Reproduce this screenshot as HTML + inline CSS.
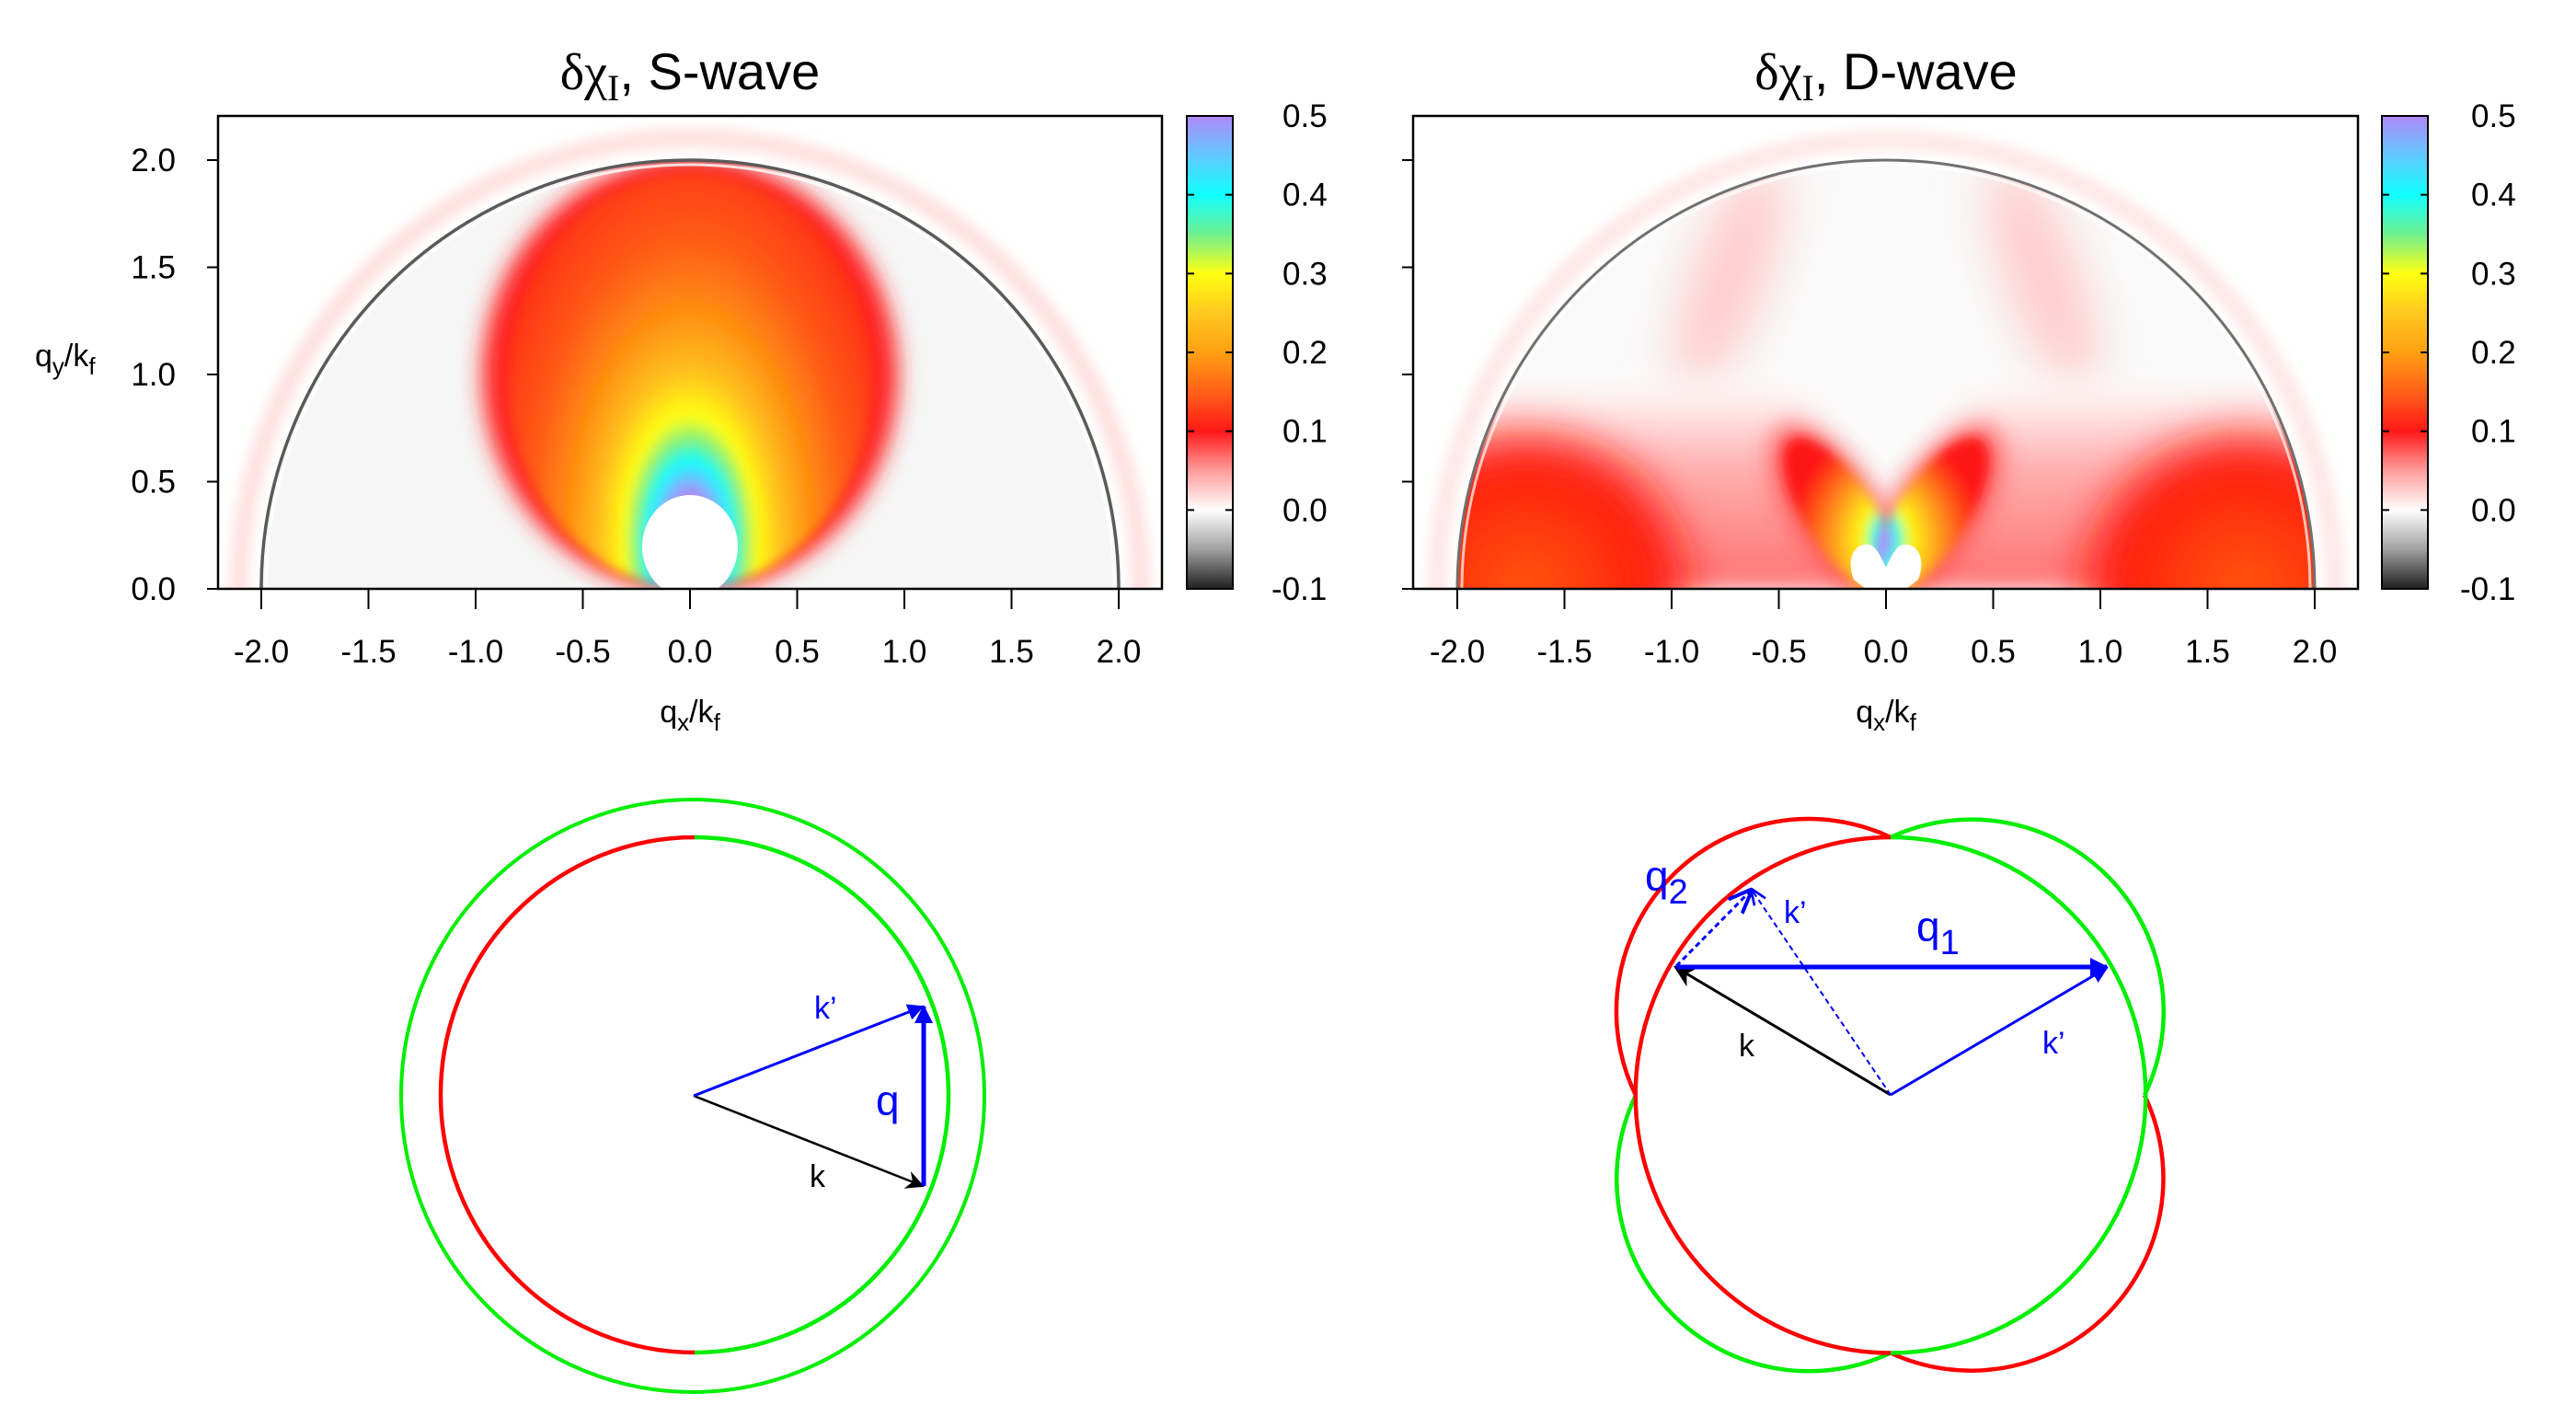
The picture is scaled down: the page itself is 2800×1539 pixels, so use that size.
<!DOCTYPE html>
<html><head><meta charset="utf-8">
<style>
html,body{margin:0;padding:0;background:#fff;}
svg{display:block;font-family:"Liberation Sans",sans-serif;}
</style></head>
<body>
<svg id="fig" width="2800" height="1539" viewBox="0 0 2800 1539" xmlns="http://www.w3.org/2000/svg">
<defs>
  <filter id="blur6" x="-50%" y="-50%" width="200%" height="200%"><feGaussianBlur stdDeviation="6"/></filter>
  <filter id="blur12" x="-50%" y="-50%" width="200%" height="200%"><feGaussianBlur stdDeviation="12"/></filter>
  <filter id="blur25" x="-50%" y="-50%" width="200%" height="200%"><feGaussianBlur stdDeviation="25"/></filter>
  <linearGradient id="cbar" x1="0" y1="1" x2="0" y2="0"></linearGradient>
  <radialGradient id="sGrad" gradientUnits="userSpaceOnUse" cx="750" cy="589" r="233" gradientTransform="translate(750 589) scale(1 1.9) translate(-750 -589)">
    <stop offset="0.12" stop-color="#b088f8"/>
    <stop offset="0.16" stop-color="#60c8ff"/>
    <stop offset="0.2" stop-color="#10ffff"/>
    <stop offset="0.25" stop-color="#80f080"/>
    <stop offset="0.31" stop-color="#ffff10"/>
    <stop offset="0.42" stop-color="#ffc020"/>
    <stop offset="0.56" stop-color="#ff9010"/>
    <stop offset="0.75" stop-color="#ff5a18"/>
    <stop offset="1" stop-color="#ff3010"/>
  </radialGradient>
  <radialGradient id="petalGrad" gradientUnits="userSpaceOnUse" cx="2050" cy="625" r="130">
    <stop offset="0.22" stop-color="#b088f8"/>
    <stop offset="0.3" stop-color="#10ffff"/>
    <stop offset="0.4" stop-color="#ffff10"/>
    <stop offset="0.6" stop-color="#ffb020"/>
    <stop offset="0.85" stop-color="#ff5018"/>
    <stop offset="1" stop-color="#ff1818"/>
  </radialGradient>
  <radialGradient id="lobeGrad">
    <stop offset="0" stop-color="#ff5a10"/>
    <stop offset="0.55" stop-color="#ff3010"/>
    <stop offset="1" stop-color="#ff1010"/>
  </radialGradient>
  <linearGradient id="pinkBand" x1="0" y1="1" x2="0" y2="0">
    <stop offset="0" stop-color="#ff7070"/>
    <stop offset="0.55" stop-color="#ffb0b0"/>
    <stop offset="0.8" stop-color="#ffe4e4"/>
    <stop offset="1" stop-color="#ffffff" stop-opacity="0"/>
  </linearGradient>
  <clipPath id="clipL"><rect x="237" y="126" width="1026" height="514"/></clipPath>
  <clipPath id="clipR"><rect x="1536" y="126" width="1027" height="514"/></clipPath>
  <clipPath id="semiL"><ellipse cx="750" cy="640" rx="466" ry="466"/></clipPath>
  <clipPath id="semiR"><ellipse cx="2050" cy="640" rx="466" ry="466"/></clipPath>
  <marker id="arB" viewBox="0 0 10 10" refX="9" refY="5" markerWidth="6" markerHeight="6" orient="auto" markerUnits="strokeWidth"><path d="M0,0 L10,5 L0,10 z" fill="#0000ff"/></marker>
  <marker id="arBs" viewBox="0 0 10 10" refX="9" refY="5" markerWidth="4" markerHeight="4" orient="auto" markerUnits="strokeWidth"><path d="M0,0 L10,5 L0,10 z" fill="#0000ff"/></marker>
  <marker id="arK" viewBox="0 0 10 10" refX="9" refY="5" markerWidth="8" markerHeight="8" orient="auto" markerUnits="strokeWidth"><path d="M0,0 L10,5 L0,10 L3,5 z" fill="#000"/></marker>
  <marker id="arBd" viewBox="0 0 10 10" refX="9" refY="5" markerWidth="9" markerHeight="9" orient="auto" markerUnits="strokeWidth"><path d="M0,1 L10,5 L0,9" fill="none" stroke="#0000ff" stroke-width="1.5"/></marker>
</defs>

<!-- ===== S-wave heatmap ===== -->
<g id="heatS" clip-path="url(#clipL)">
  <ellipse cx="750" cy="640" rx="490" ry="490" fill="none" stroke="#ffe2e2" stroke-width="22" filter="url(#blur6)"/>
  <ellipse cx="750" cy="640" rx="466" ry="466" fill="#f6f6f6"/>
  <g clip-path="url(#semiL)">
    <ellipse cx="750" cy="180" rx="70" ry="20" fill="#cfcfcf" filter="url(#blur12)"/>
    <ellipse cx="750" cy="408" rx="226" ry="236" fill="#ff2020" filter="url(#blur12)"/>
    <ellipse cx="750" cy="414" rx="198" ry="226" fill="url(#sGrad)" filter="url(#blur6)"/>
    <ellipse cx="750" cy="594" rx="52" ry="56" fill="#ffffff"/>
  </g>
  <ellipse cx="750" cy="640" rx="466" ry="466" fill="none" stroke="#5a5a5a" stroke-width="3.5"/>
  <ellipse cx="750" cy="640" rx="461" ry="461" fill="none" stroke="#ffffff" stroke-width="3" opacity="0.8"/>
</g>

<!-- ===== D-wave heatmap ===== -->
<g id="heatD" clip-path="url(#clipR)">
  <ellipse cx="2050" cy="640" rx="488" ry="488" fill="none" stroke="#ffe8e8" stroke-width="22" filter="url(#blur6)"/>
  <ellipse cx="2050" cy="640" rx="466" ry="466" fill="#f9f9f9"/>
  <g clip-path="url(#semiR)">
    <ellipse cx="1880" cy="300" rx="40" ry="130" fill="#ffcccc" filter="url(#blur25)" transform="rotate(20 1880 300)"/>
    <ellipse cx="2220" cy="300" rx="40" ry="130" fill="#ffcccc" filter="url(#blur25)" transform="rotate(-20 2220 300)"/>
    <rect x="1580" y="400" width="940" height="240" fill="url(#pinkBand)" filter="url(#blur12)"/>
    <ellipse cx="2050" cy="450" rx="90" ry="170" fill="#fafafa" filter="url(#blur25)"/>
    <ellipse cx="1660" cy="640" rx="170" ry="165" fill="url(#lobeGrad)" filter="url(#blur25)"/>
    <ellipse cx="2440" cy="640" rx="170" ry="165" fill="url(#lobeGrad)" filter="url(#blur25)"/>
    <ellipse cx="1995" cy="555" rx="50" ry="110" fill="#ff3030" opacity="0.6" filter="url(#blur12)" transform="rotate(-33 1995 555)"/>
    <ellipse cx="2105" cy="555" rx="50" ry="110" fill="#ff3030" opacity="0.6" filter="url(#blur12)" transform="rotate(33 2105 555)"/>
    <ellipse cx="2000" cy="560" rx="38" ry="98" fill="url(#petalGrad)" filter="url(#blur6)" transform="rotate(-33 2000 560)"/>
    <ellipse cx="2100" cy="560" rx="38" ry="98" fill="url(#petalGrad)" filter="url(#blur6)" transform="rotate(33 2100 560)"/>
    <path d="M2050,617 C2040,595 2035,590 2026,592 C2012,595 2008,612 2015,630 L2028,640 L2072,640 L2085,630 C2092,612 2088,595 2074,592 C2065,590 2060,595 2050,617 Z" fill="#ffffff"/>
  </g>
  <ellipse cx="2050" cy="640" rx="466" ry="466" fill="none" stroke="#707070" stroke-width="3"/>
  <ellipse cx="2050" cy="640" rx="461" ry="461" fill="none" stroke="#ffffff" stroke-width="3" opacity="0.7"/>
</g>

<g id="axes"></g>

<!-- ===== S-wave diagram ===== -->
<g fill="none">
  <ellipse cx="753" cy="1191" rx="317" ry="322" stroke="#00ee00" stroke-width="4"/>
  <path d="M755,910 A276,280 0 0 0 755,1470" stroke="#ff0000" stroke-width="4.5"/>
  <path d="M755,910 A276,280 0 0 1 755,1470" stroke="#00ee00" stroke-width="4.5"/>
  <line x1="754" y1="1191" x2="1003" y2="1289" stroke="#000" stroke-width="2.5" marker-end="url(#arK)"/>
  <line x1="754" y1="1191" x2="1003" y2="1094" stroke="#0000ff" stroke-width="3" marker-end="url(#arB)"/>
  <line x1="1004" y1="1289" x2="1004" y2="1094" stroke="#0000ff" stroke-width="5" marker-end="url(#arBs)"/>
  <text x="885" y="1107" font-size="34" fill="#0000ff" stroke="none">k’</text>
  <text x="952" y="1212" font-size="46" fill="#0000ff" stroke="none">q</text>
  <text x="880" y="1290" font-size="34" fill="#000" stroke="none">k</text>
</g>

<!-- ===== D-wave diagram ===== -->
<g fill="none">
  <path d="M2055,910 A209,209 0 0 0 1778,1190.5" stroke="#ff0000" stroke-width="4.5"/>
  <path d="M2055,910 A209,209 0 0 1 2331,1190.5" stroke="#00ee00" stroke-width="4.5"/>
  <path d="M1778,1190.5 A209,209 0 0 0 2055,1470.5" stroke="#00ee00" stroke-width="4.5"/>
  <path d="M2055,1470.5 A209,209 0 0 0 2331,1190.5" stroke="#ff0000" stroke-width="4.5"/>
  <path d="M2055,910 A277,280 0 0 0 2055,1470.5" stroke="#ff0000" stroke-width="4.5"/>
  <path d="M2055,910 A277,280 0 0 1 2055,1470.5" stroke="#00ee00" stroke-width="4.5"/>
  <line x1="2055" y1="1190" x2="1821" y2="1051" stroke="#000" stroke-width="3" marker-end="url(#arK)"/>
  <line x1="1822" y1="1051" x2="2290" y2="1051" stroke="#0000ff" stroke-width="5" marker-end="url(#arBs)"/>
  <line x1="2055" y1="1190" x2="2290" y2="1052" stroke="#0000ff" stroke-width="3" marker-end="url(#arB)"/>
  <line x1="2055" y1="1190" x2="1904" y2="967" stroke="#0000ff" stroke-width="2" stroke-dasharray="6,4" marker-end="url(#arBd)"/>
  <line x1="1822" y1="1050" x2="1903" y2="968" stroke="#0000ff" stroke-width="3" stroke-dasharray="6,4" marker-end="url(#arBd)"/>
  <text x="1788" y="968" font-size="46" fill="#0000ff" stroke="none">q<tspan font-size="38" dy="14">2</tspan></text>
  <text x="2083" y="1023" font-size="46" fill="#0000ff" stroke="none">q<tspan font-size="38" dy="14">1</tspan></text>
  <text x="1939" y="1003" font-size="34" fill="#0000ff" stroke="none">k’</text>
  <text x="2220" y="1145" font-size="34" fill="#0000ff" stroke="none">k’</text>
  <text x="1890" y="1148" font-size="34" fill="#000" stroke="none">k</text>
</g>
</svg>
<script>
// ---- axis / colorbar data ----
const xTicks = [-2.0, -1.5, -1.0, -0.5, 0.0, 0.5, 1.0, 1.5, 2.0];
const xTickLabels = ["-2.0","-1.5","-1.0","-0.5","0.0","0.5","1.0","1.5","2.0"];
const yTicks = [0.0, 0.5, 1.0, 1.5, 2.0];
const yTickLabels = ["0.0","0.5","1.0","1.5","2.0"];
const cbTicks = [-0.1, 0.0, 0.1, 0.2, 0.3, 0.4, 0.5];
const cbTickLabels = ["-0.1","0.0","0.1","0.2","0.3","0.4","0.5"];
const cbStopValues = [-0.1, -0.05, 0.0, 0.05, 0.1, 0.15, 0.2, 0.25, 0.3, 0.35, 0.4, 0.45, 0.5];
const cbStopColors = ["#202020","#a0a0a0","#ffffff","#ff9c9c","#ff1818","#ff6018","#ffa012","#ffc820","#ffff10","#70f090","#10ffff","#60c8ff","#b088f8"];
const titles = ["S-wave", "D-wave"];

const NS = "http://www.w3.org/2000/svg";
const axesG = document.getElementById('axes');
const panels = [
  {x0: 750, fl: 237, fr: 1263, cbL: 1290, cbR: 1340, cbLab: 1394},
  {x0: 2050, fl: 1536, fr: 2563, cbL: 2589, cbR: 2639, cbLab: 2686}
];
const plotTop = 126, plotBot = 640, unit = 233;
const cbMin = -0.1, cbMax = 0.5;
function X(p, u){ return p.x0 + unit*u; }
function Y(v){ return plotBot - unit*v; }
function CB(v){ return plotBot - (v - cbMin)/(cbMax - cbMin)*(plotBot - plotTop); }
function mk(tag, attrs){ const e = document.createElementNS(NS, tag); for (const k in attrs) e.setAttribute(k, attrs[k]); return e; }

const grad = document.getElementById('cbar');
cbStopValues.forEach((v, i) => {
  const s = mk('stop', {offset: ((v - cbMin)/(cbMax - cbMin)).toString(), 'stop-color': cbStopColors[i]});
  grad.appendChild(s);
});

panels.forEach((p, pi) => {
  const frame = mk('rect', {x: p.fl, y: plotTop, width: p.fr - p.fl, height: plotBot - plotTop, fill: 'none', stroke: '#000', 'stroke-width': 2.5});
  
  
  axesG.appendChild(frame);

  xTicks.forEach((t, i) => {
    const ln = mk('line', {x1: X(p, t), x2: X(p, t), y1: plotBot, y2: plotBot + 22, stroke: '#000', 'stroke-width': 2});
    
    
    axesG.appendChild(ln);
    const tx = mk('text', {x: X(p, t), y: Y(0) + 80, 'font-size': 35, 'text-anchor': 'middle'});
    tx.textContent = xTickLabels[i];
    
    
    axesG.appendChild(tx);
  });
  yTicks.forEach((t, i) => {
    const ln = mk('line', {x1: p.fl - 12, x2: p.fl, y1: Y(t), y2: Y(t), stroke: '#000', 'stroke-width': 2});
    
    
    axesG.appendChild(ln);
    if (pi === 0) {
      const tx = mk('text', {x: p.fl - 46, y: Y(t) + 12, 'font-size': 35, 'text-anchor': 'end'});
      tx.textContent = yTickLabels[i];
      
      
      axesG.appendChild(tx);
    }
  });
  const cb = mk('rect', {x: p.cbL, y: plotTop, width: p.cbR - p.cbL, height: plotBot - plotTop, fill: 'url(#cbar)', stroke: '#000', 'stroke-width': 2});
  
  
  axesG.appendChild(cb);
  cbTicks.forEach((t, i) => {
    [[p.cbL, p.cbL + 8], [p.cbR - 8, p.cbR]].forEach(seg => {
      const ln = mk('line', {x1: seg[0], x2: seg[1], y1: CB(t), y2: CB(t), stroke: '#000', 'stroke-width': 2});
      
      
      axesG.appendChild(ln);
    });
    const tx = mk('text', {x: p.cbLab + (cbTickLabels[i][0] === '-' ? -12 : 0), y: CB(t) + 12, 'font-size': 35});
    tx.textContent = cbTickLabels[i];
    
    
    axesG.appendChild(tx);
  });
  const title = mk('text', {x: p.x0, y: 97, 'font-size': 56, 'text-anchor': 'middle'});
  title.innerHTML = '<tspan font-family="Liberation Serif, serif">δχ<tspan font-size="40" dy="12">I</tspan></tspan><tspan dy="-12">, ' + titles[pi] + '</tspan>';
  
  
  axesG.appendChild(title);
  const xl = mk('text', {x: p.x0, y: 785, 'font-size': 34, 'text-anchor': 'middle'});
  xl.innerHTML = 'q<tspan font-size="26" dy="9">x</tspan><tspan dy="-9">/k</tspan><tspan font-size="26" dy="9">f</tspan>';
  
  
  axesG.appendChild(xl);
});
const yl = mk('text', {x: 38, y: 398, 'font-size': 34});
yl.innerHTML = 'q<tspan font-size="26" dy="9">y</tspan><tspan dy="-9">/k</tspan><tspan font-size="26" dy="9">f</tspan>';


axesG.appendChild(yl);
</script>
</body></html>
